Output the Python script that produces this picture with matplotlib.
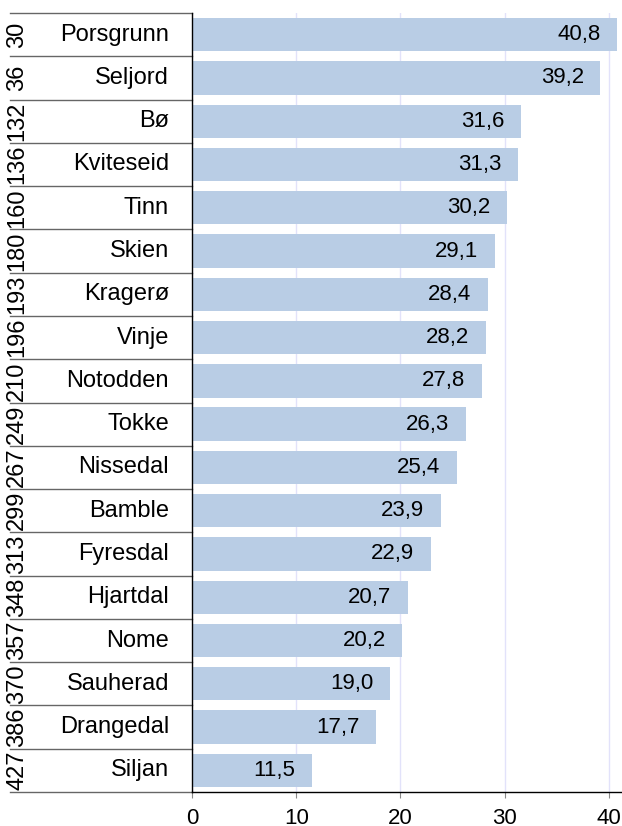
import numpy as np
import matplotlib.pyplot as plt

plt.rcParams['font.family'] = ['Liberation Sans', 'DejaVu Sans']

ranks = [30, 36, 132, 136, 160, 180, 193, 196, 210, 249, 267, 299, 313, 348, 357, 370, 386, 427]
names = ['Porsgrunn', 'Seljord', 'Bø', 'Kviteseid', 'Tinn', 'Skien', 'Kragerø', 'Vinje',
         'Notodden', 'Tokke', 'Nissedal', 'Bamble', 'Fyresdal', 'Hjartdal', 'Nome',
         'Sauherad', 'Drangedal', 'Siljan']
values = [40.8, 39.2, 31.6, 31.3, 30.2, 29.1, 28.4, 28.2, 27.8, 26.3, 25.4, 23.9,
          22.9, 20.7, 20.2, 19.0, 17.7, 11.5]

fig = plt.figure(figsize=(6.22, 8.26), dpi=100)
ax = fig.add_axes([192/622, 1-792/826, 430/622, (792-13)/826])

y = np.arange(len(values))
ax.barh(y, values, height=0.77, color='#b9cde5', zorder=2)
for yi, v in zip(y, values):
    ax.annotate(f'{v:.1f}'.replace('.', ','), (v, yi), xytext=(-12, 0),
                textcoords='offset points', ha='right', va='center', fontsize=16, zorder=3)

ax.set_ylim(len(values)-0.5, -0.5)
ax.set_xlim(0, 430/10.42)
ax.set_xticks([0, 10, 20, 30, 40])
ax.set_yticks([])
ax.grid(axis='x', color='#e2e2fa', linewidth=1, zorder=0)
ax.tick_params(axis='x', labelsize=16, color='#888888', length=4.5, pad=7)
for s in ['top', 'right']:
    ax.spines[s].set_visible(False)
for s in ['left', 'bottom']:
    ax.spines[s].set_color('black')
    ax.spines[s].set_linewidth(1)

x0 = (10-192)/430
for k in range(len(values)+1):
    yy = k - 0.5
    ax.plot([x0, 0], [yy, yy], transform=ax.get_yaxis_transform(), color='#666666',
            linewidth=1, clip_on=False)
for yi, r, n in zip(y, ranks, names):
    ax.text((17-192)/430, yi, str(r), transform=ax.get_yaxis_transform(), rotation=90,
            ha='center', va='center', fontsize=17)
    ax.text((169-192)/430, yi, n, transform=ax.get_yaxis_transform(),
            ha='right', va='center', fontsize=17)

fig.savefig('out.png', dpi=100)
